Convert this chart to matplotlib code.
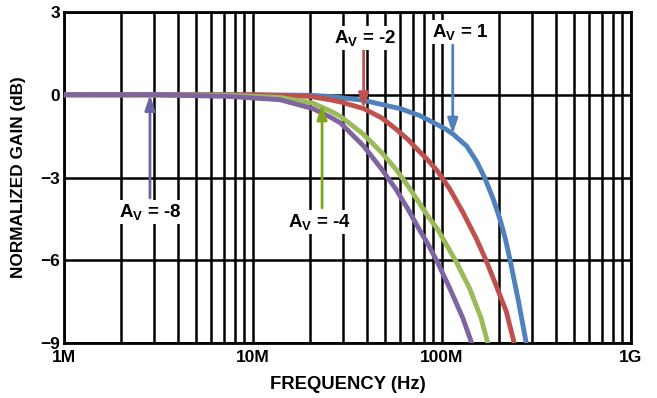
import numpy as np
import matplotlib
matplotlib.use('Agg')
import matplotlib.pyplot as plt
from matplotlib.ticker import LogLocator, NullFormatter, FixedLocator

plt.rcParams['font.family'] = ['Liberation Sans', 'DejaVu Sans']
plt.rcParams['font.weight'] = 'bold'
plt.rcParams['mathtext.fontset'] = 'custom'
plt.rcParams['mathtext.rm'] = 'Liberation Sans:bold'
plt.rcParams['mathtext.it'] = 'Liberation Sans:bold'
plt.rcParams['mathtext.bf'] = 'Liberation Sans:bold'

# ------------------------------------------------------------------------
# data (frequency in MHz, gain in dB)
f_av1 = [1, 10, 20, 25.5, 38.5, 53, 60, 76, 89.5, 105, 115, 135, 152, 168, 186, 203, 216, 229, 253, 275, 282]
g_av1 = [0, 0, -0.02, -0.06, -0.2, -0.42, -0.5, -0.75, -1.0, -1.25, -1.44, -1.86, -2.4, -3.0, -3.75,
         -4.53, -5.2, -5.98, -7.43, -8.76, -9.2]

f_av2 = [1, 10, 20, 25.5, 29, 38.5, 48, 57, 66, 75.5, 85, 94.5, 110, 129, 152, 171, 193, 219, 245]
g_av2 = [0, 0, -0.06, -0.18, -0.26, -0.5, -0.84, -1.24, -1.62, -2.04, -2.4, -2.76, -3.42, -4.26,
         -5.22, -6.0, -6.9, -7.86, -9.2]

f_av4 = [1, 7.5, 14, 20.7, 25.5, 29, 38.5, 48, 57, 66, 75.5, 85, 94.5, 119, 140, 161, 178]
g_av4 = [0, -0.02, -0.1, -0.3, -0.58, -0.78, -1.44, -2.1, -2.7, -3.3, -3.9, -4.44, -4.86, -6.06,
         -7.02, -8.1, -9.2]

f_av8 = [1, 3, 7.5, 13.9, 20.7, 25.5, 29, 38.5, 48, 57, 66, 75.5, 85, 94.5, 110, 129, 147]
g_av8 = [0, 0, -0.06, -0.18, -0.5, -0.8, -1.02, -1.86, -2.7, -3.42, -4.14, -4.86, -5.46, -6.06,
         -7.02, -8.1, -9.2]

x_ticks = [1e6, 1e7, 1e8, 1e9]
x_labels = ['1M', '10M', '100M', '1G']
y_ticks = [3, 0, -3, -6, -9]

c_blue = '#4f81bd'
c_red = '#c0504d'
c_green = '#9bbb59'
c_purple = '#8064a2'
# ------------------------------------------------------------------------
fig = plt.figure(figsize=(6.57, 3.98), dpi=100)
ax = fig.add_axes([0.0974, 0.1382, 0.863, 0.8316])

for f, g, c in [(f_av1, g_av1, c_blue), (f_av2, g_av2, c_red),
                (f_av4, g_av4, c_green), (f_av8, g_av8, c_purple)]:
    ax.plot(np.array(f) * 1e6, g, color=c, lw=3.5, solid_joinstyle='round', zorder=3)

ax.set_xscale('log')
ax.set_xlim(1e6, 1e9)
ax.set_ylim(-9, 3)
ax.xaxis.set_major_locator(FixedLocator(x_ticks))
ax.set_xticklabels(x_labels)
ax.xaxis.set_minor_locator(LogLocator(base=10, subs=np.arange(2, 10)))
ax.xaxis.set_minor_formatter(NullFormatter())
ax.set_yticks(y_ticks)
ax.grid(True, which='both', axis='x', color='black', lw=1.8)
ax.grid(True, which='major', axis='y', color='black', lw=1.8)
for s in ax.spines.values():
    s.set_linewidth(2)
ax.tick_params(axis='both', which='both', length=0, labelsize=12.5)
ax.tick_params(axis='y', pad=3)
ax.tick_params(axis='x', pad=5)

ax.set_xlabel('FREQUENCY (Hz)', fontsize=13.3, fontweight='bold', labelpad=8)
ax.set_ylabel('NORMALIZED GAIN (dB)', fontsize=12.4, fontweight='bold', labelpad=10)

# arrows
def arrow(xy, xytext, col):
    ax.annotate('', xy=xy, xytext=xytext,
                arrowprops=dict(arrowstyle='-|>,head_length=0.9,head_width=0.3',
                                color=col, lw=2, shrinkA=0, shrinkB=0), zorder=4)

arrow((38.5e6, -0.5), (38.5e6, 1.62), c_red)
arrow((114e6, -1.42), (114e6, 1.8), c_blue)
arrow((2.85e6, 0), (2.85e6, -3.74), '#6a66a3')
arrow((23.2e6, -0.34), (23.2e6, -4.1), '#7fa61c')

box = dict(facecolor='white', edgecolor='none', pad=1.5)
kw = dict(ha='center', va='center', fontsize=13.5, bbox=box, zorder=5)
ax.text(39e6, 2.06, r'A$_\mathregular{V}$ = -2', **kw)
ax.text(124e6, 2.27, r'A$_\mathregular{V}$ = 1', **kw)
ax.text(2.85e6, -4.25, r'A$_\mathregular{V}$ = -8', **kw)
ax.text(22.6e6, -4.61, r'A$_\mathregular{V}$ = -4', **kw)

fig.savefig('out.png', dpi=100)
